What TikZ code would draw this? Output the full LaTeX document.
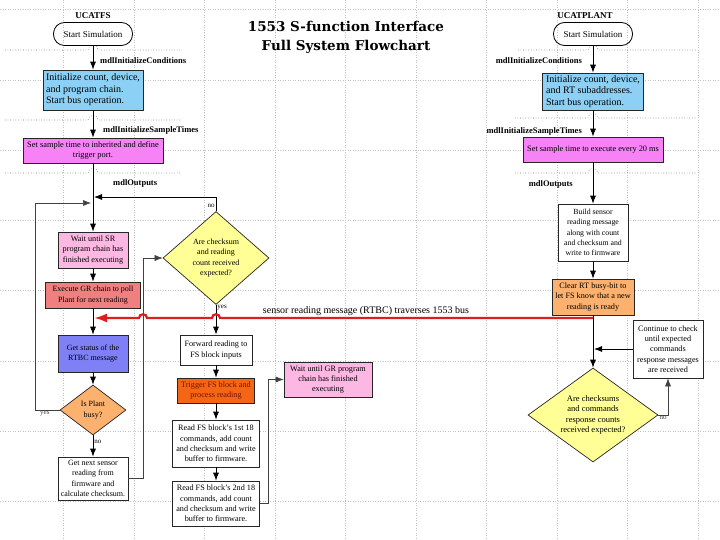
\documentclass[tikz,border=0pt]{standalone}
\usepackage{fontspec}
\setmainfont{Liberation Serif}
\newfontfamily\titlefont{DejaVu Serif}
\usetikzlibrary{calc}
\usetikzlibrary{arrows.meta}
\usetikzlibrary{shapes.geometric}

\definecolor{skyfill}{RGB}{140,208,245}
\definecolor{magfill}{RGB}{246,130,246}
\definecolor{pinkfill}{RGB}{252,184,226}
\definecolor{salmonfill}{RGB}{240,128,128}
\definecolor{bluefill}{RGB}{128,128,246}
\definecolor{tanfill}{RGB}{252,178,110}
\definecolor{yelfill}{RGB}{255,255,150}
\definecolor{hotfill}{RGB}{244,102,22}
\definecolor{hottext}{RGB}{110,20,0}
\definecolor{busred}{RGB}{222,30,30}
\definecolor{gridgray}{RGB}{195,195,195}

\tikzset{
  gridline/.style={gridgray, dotted, line width=0.5pt},
  sepline/.style={black!55, dotted, line width=0.6pt},
  fbox/.style={draw=black!85, line width=0.7pt, align=center, inner sep=2pt, font=\fontsize{8.2}{10.4}\selectfont},
  term/.style={draw=black, line width=0.8pt, rounded corners=11pt, minimum width=79pt, minimum height=23pt, font=\fontsize{9}{11}\selectfont},
  decide/.style={diamond, draw=black!85, line width=0.7pt, align=center, inner sep=0pt, fill=yelfill, font=\fontsize{8}{10.4}\selectfont},
  hdr/.style={font=\fontsize{9}{10}\selectfont\bfseries, inner sep=0pt},
  mdl/.style={font=\fontsize{8.5}{9}\selectfont\bfseries, inner sep=0pt},
  lbl/.style={font=\fontsize{7}{8}\selectfont, inner sep=1pt},
  ttl/.style={font=\titlefont\fontsize{13.5}{19}\selectfont\bfseries, align=center},
  buslbl/.style={font=\fontsize{10}{11}\selectfont, inner sep=0pt},
  flow/.style={-{Latex[length=8pt,width=6pt]}, line width=0.8pt},
  loopback/.style={-{Latex[length=8pt,width=6pt]}, line width=0.5pt, black!75},
  bus/.style={-{Latex[length=13pt,width=9pt]}, line width=2.2pt, busred},
}

\begin{document}
\begin{tikzpicture}[x=1pt,y=-1pt]
\fill[white] (0,0) rectangle (720,540);
\useasboundingbox (0,0) rectangle (720,540);
% page grid
\foreach \gx in {0,...,9}
  \draw[gridline] ({63.5+70.5*\gx},0) -- ++(0,540);
\foreach \gy in {0,...,7}
  \draw[gridline] (0,{9.5+70.3*\gy}) -- ++(720,0);

% function boundaries
\foreach \sy in {50,120,173}
  \draw[sepline] (5,\sy) -- (88,\sy) to[out=90,in=90,looseness=1.6] (98,\sy) -- (180,\sy);
\foreach \sy/\sx in {50/518,118/515,173/515}
  \draw[sepline] (\sx,\sy) -- (588,\sy) to[out=90,in=90,looseness=1.6] (598,\sy) -- (697,\sy);

\node[ttl] (title) at (346,37) {1553 S-function Interface\\Full System Flowchart};

% UCATFS side
\node[hdr] (nameL) at (93,16) {UCATFS};
\node[term] (startL) at (93,34) {Start Simulation};
\node[mdl, anchor=west] (condL) at (100,61) {mdlInitializeConditions};
\node[fbox, fill=skyfill, align=left, minimum width=100pt, minimum height=40pt, font=\fontsize{10}{11.5}\selectfont] (initL) at (93,90) {Initialize count, device,\\and program chain.\\Start bus operation.};
\node[mdl, anchor=west] (timesL) at (103,130) {mdlInitializeSampleTimes};
\node[fbox, fill=magfill, minimum width=140pt, minimum height=25pt, font=\fontsize{8.4}{10.5}\selectfont] (setL) at (93,150.5) {Set sample time to inherited and define\\trigger port.};
\node[mdl, anchor=west] (outL) at (113,183) {mdlOutputs};
\node[fbox, fill=pinkfill, minimum width=70pt, minimum height=36pt] (waitSR) at (93,250) {Wait until SR\\program chain has\\finished executing};
\node[fbox, fill=salmonfill, minimum width=95pt, minimum height=26pt, font=\fontsize{8}{10.5}\selectfont] (execGR) at (93,295) {Execute GR chain to poll\\Plant for next reading};
\node[fbox, fill=bluefill, minimum width=70pt, minimum height=37pt, font=\fontsize{8}{10.5}\selectfont] (statL) at (93,353.5) {Get status of the\\RTBC message};
\node[decide, fill=tanfill, minimum width=66pt, minimum height=50pt, aspect=1.3, font=\fontsize{8}{10.5}\selectfont] (busy) at (93,410) {Is Plant\\busy?};
\node[fbox, fill=white, minimum width=70pt, minimum height=43pt, font=\fontsize{8}{10.4}\selectfont] (getnext) at (93,478.5) {Get next sensor\\reading from\\firmware and\\calculate checksum.};

\node[decide, minimum width=106pt, minimum height=93pt, aspect=1.1] (chkA) at (216,258) {Are checksum\\and reading\\count received\\expected?};
\node[fbox, fill=white, minimum width=72pt, minimum height=30pt] (fwd) at (216,350) {Forward reading to\\FS block inputs};
\node[fbox, fill=hotfill, text=hottext, minimum width=77pt, minimum height=25pt] (trig) at (216,390.5) {Trigger FS block and\\process reading};
\node[fbox, fill=white, minimum width=87pt, minimum height=47pt] (read1) at (216,443.5) {Read FS block's 1st 18\\commands, add count\\and checksum and write\\buffer to firmware.};
\node[fbox, fill=white, minimum width=87pt, minimum height=45pt] (read2) at (216,503.5) {Read FS block's 2nd 18\\commands, add count\\and checksum and write\\buffer to firmware.};
\node[fbox, fill=pinkfill, minimum width=88pt, minimum height=35pt] (waitGR) at (328,379.5) {Wait until GR program\\chain has finished\\executing};

% UCATPLANT side
\node[hdr] (nameR) at (585,16) {UCATPLANT};
\node[term] (startR) at (593,34) {Start Simulation};
\node[mdl, anchor=east] (condR) at (582,61) {mdlInitializeConditions};
\node[fbox, fill=skyfill, align=left, minimum width=101pt, minimum height=37pt, font=\fontsize{10}{11.5}\selectfont] (initR) at (593,91.5) {Initialize count, device,\\and RT subaddresses.\\Start bus operation.};
\node[mdl, anchor=east] (timesR) at (582,131) {mdlInitializeSampleTimes};
\node[fbox, fill=magfill, minimum width=140pt, minimum height=25pt, font=\fontsize{8.3}{10.5}\selectfont] (setR) at (593,149.5) {Set sample time to execute every 20 ms};
\node[mdl, anchor=east] (outR) at (573,184) {mdlOutputs};
\node[fbox, fill=white, minimum width=70pt, minimum height=57pt, font=\fontsize{7.8}{10.4}\selectfont] (build) at (593,232.5) {Build sensor\\reading message\\along with count\\and checksum and\\write to firmware};
\node[fbox, fill=tanfill, minimum width=82pt, minimum height=36pt] (clear) at (593,297) {Clear RT busy-bit to\\let FS know that a new\\reading is ready};
\node[fbox, fill=white, minimum width=70pt, minimum height=58pt] (cont) at (668,349) {Continue to check\\until expected\\commands\\response messages\\are received};
\node[decide, minimum width=130pt, minimum height=94pt, aspect=1.4, font=\fontsize{8.5}{10.4}\selectfont] (chkB) at (593,415) {Are checksums\\and commands\\response counts\\received expected?};

\node[buslbl] (busmsg) at (366,311) {sensor reading message (RTBC) traverses 1553 bus};

\coordinate (noin) at (94,197);
\coordinate (yesleft) at (35,203);
\coordinate (yesin) at (91,203);
\coordinate (loopA) at (143,258);
\coordinate (loopB) at (268,379.5);
\coordinate (redsrc) at (593,318);
\coordinate (redend) at (94,318);
\coordinate (contin) at (594,349);

% connectors
\draw[flow] (startL) -- (initL);
\draw[flow] (initL) -- (setL);
\draw[flow] (setL) -- (waitSR);
\draw[flow] (waitSR) -- (execGR);
\draw[flow] (execGR) -- (statL);
\draw[flow] (statL) -- (busy);
\draw[flow] (busy) -- node[lbl, right, pos=0.3] {no} (getnext);
\draw[loopback] (busy.west) -| node[lbl, below, pos=0.3] {yes} (yesleft) -- (yesin);
\draw[loopback] (getnext.east) -| (loopA) -- (chkA.west);
\draw[flow] (chkA.north) |- node[lbl, left, pos=0.2] {no} (noin);
\draw[flow] (chkA.south) -- node[lbl, right, pos=0.08] {yes} (fwd);
\draw[flow] (fwd) -- (trig);
\draw[flow] (trig) -- (read1);
\draw[flow] (read1) -- (read2);
\draw[loopback] (read2.east) -| (loopB) -- (waitGR.west);

\draw[flow] (startR) -- (initR);
\draw[flow] (initR) -- (setR);
\draw[flow] (setR) -- (build);
\draw[flow] (build) -- (clear);
\draw[flow] (clear) -- (chkB);
\draw[flow] (cont.west) -- (contin);
\draw[loopback] (chkB.east) -| node[lbl, below, pos=0.25] {no} (cont.south);

% 1553 bus message
\draw[bus] (redsrc) -- ($(chkA |- redsrc)+(4,0)$) to[out=90,in=90,looseness=1.6] ($(chkA |- redsrc)+(-4,0)$)
  -- ($(loopA |- redsrc)+(4,0)$) to[out=90,in=90,looseness=1.6] ($(loopA |- redsrc)+(-4,0)$) -- (redend);
\end{tikzpicture}
\end{document}
